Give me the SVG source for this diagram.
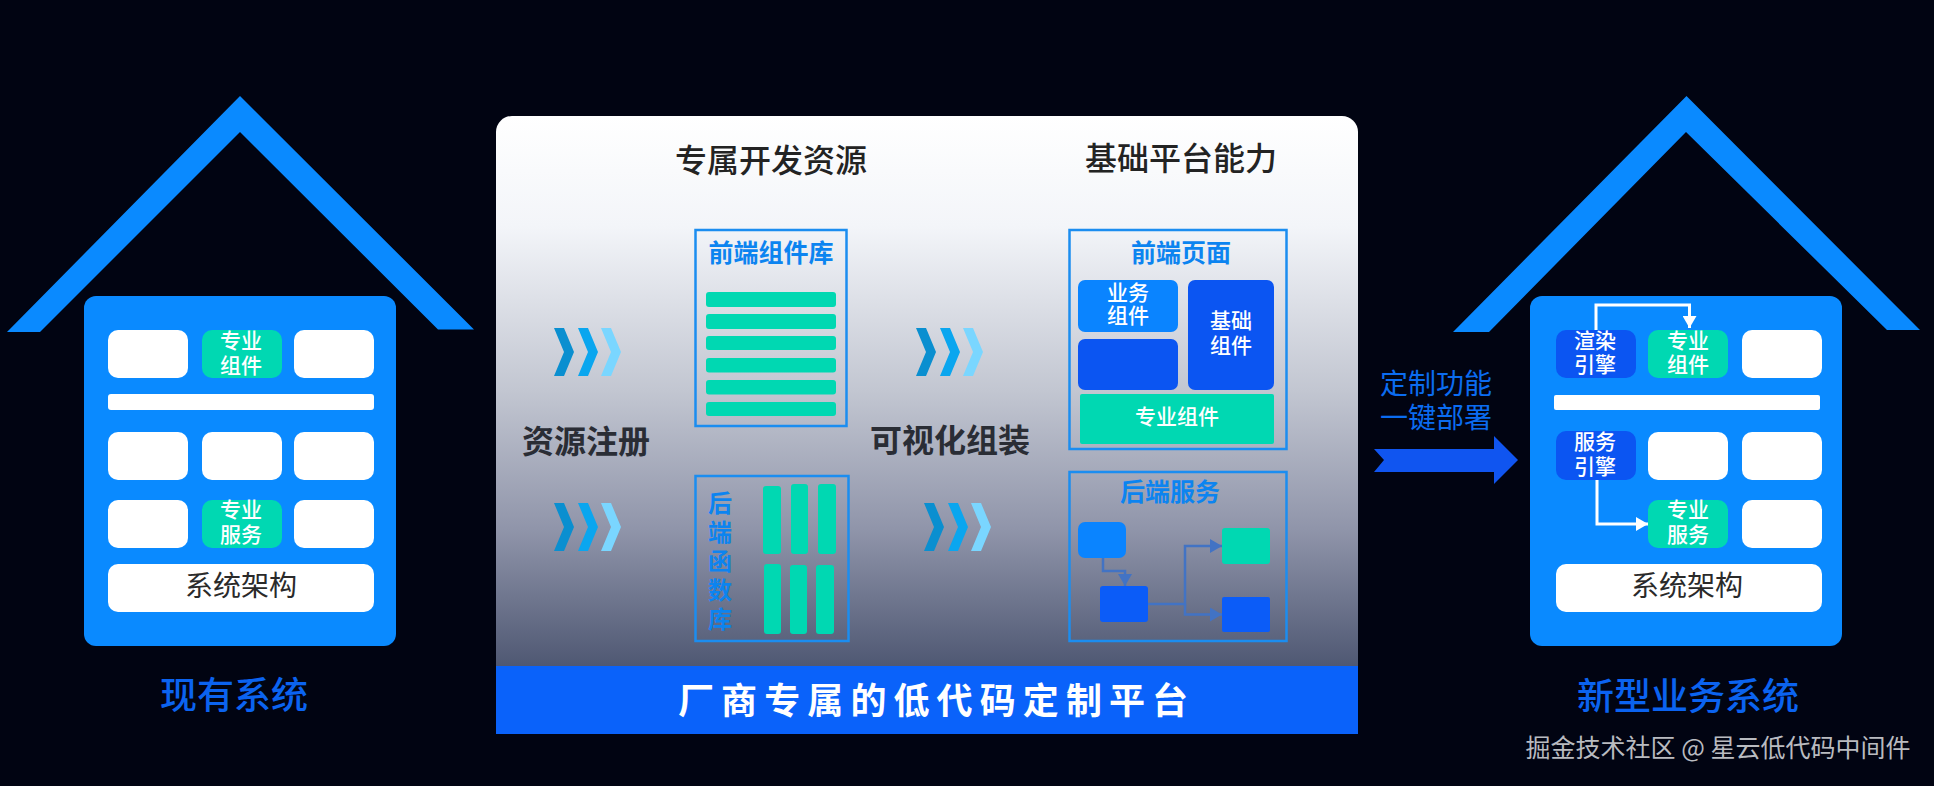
<svg xmlns="http://www.w3.org/2000/svg" xmlns:xlink="http://www.w3.org/1999/xlink" width="1934" height="786" viewBox="0 0 1934 786">
<style>
text{font-family:"Noto Sans CJK SC","Liberation Sans",sans-serif;text-anchor:middle;dominant-baseline:central;transform:translateY(-2px)}
tspan{dominant-baseline:central}
.body{fill:#0a8aff}.w{fill:#fff}.g{fill:#00d8b2}.d{fill:#0b55f2}.m{fill:#0a84ff}
.t21{font-size:21px;fill:#fff;font-weight:500}.arch{font-size:28px;fill:#2a2a2a}
.title{font-size:37px;font-weight:500;fill:#0b63f0}
.head{font-size:32px;fill:#232323;font-weight:500}
.step{font-size:32px;fill:#2a2d35;font-weight:700}
.sub{font-size:25px;font-weight:700;fill:#0c84f0}
.frame{fill:none;stroke:#1b8df0;stroke-width:2.5}
.wline{fill:none;stroke:#fff;stroke-width:3}
.bline{fill:none;stroke:#4273c4;stroke-width:2.5}
</style>
<defs>
<linearGradient id="panel" x1="0" y1="0" x2="0" y2="1">
<stop offset="0" stop-color="#ffffff"/><stop offset="0.2" stop-color="#f3f5f9"/><stop offset="0.5" stop-color="#c2c6d1"/><stop offset="0.75" stop-color="#9095aa"/><stop offset="1" stop-color="#4f5873"/>
</linearGradient>
<polygon id="chev" points="0,0 10,0 20,24 10,48 0,48 10,24"/>
<g id="chevs">
<use xlink:href="#chev" href="#chev" x="0" fill="#0a8fd0"/>
<use xlink:href="#chev" href="#chev" x="24" fill="#0aa6ef"/>
<use xlink:href="#chev" href="#chev" x="47" fill="#7ad6ff"/>
</g>
<marker id="aw" markerUnits="userSpaceOnUse" markerWidth="14" markerHeight="14" refX="12" refY="7" orient="auto"><path d="M0,0L12,7L0,14Z" fill="#fff"/></marker>
<marker id="ab" markerUnits="userSpaceOnUse" markerWidth="13" markerHeight="14" refX="12" refY="7" orient="auto"><path d="M0,0L12,7L0,14Z" fill="#4273c4"/></marker>
</defs>
<rect width="1934" height="786" fill="#010412"/>

<g id="house-current">
<polygon class="body" points="240,96 474,329.5 438,329.5 240,132 40,332 7,332"/>
<rect class="body" x="84" y="296" width="312" height="350" rx="12"/>
<rect class="w" x="108" y="330" width="80" height="48" rx="10"/>
<rect class="g" x="202" y="330" width="80" height="48" rx="10"/>
<rect class="w" x="294" y="330" width="80" height="48" rx="10"/>
<text class="t21"><tspan x="241" y="341">专业</tspan><tspan x="241" y="366">组件</tspan></text>
<rect class="w" x="108" y="394" width="266" height="16" rx="3"/>
<rect class="w" x="108" y="432" width="80" height="48" rx="10"/>
<rect class="w" x="202" y="432" width="80" height="48" rx="10"/>
<rect class="w" x="294" y="432" width="80" height="48" rx="10"/>
<rect class="w" x="108" y="500" width="80" height="48" rx="10"/>
<rect class="g" x="202" y="500" width="80" height="48" rx="10"/>
<rect class="w" x="294" y="500" width="80" height="48" rx="10"/>
<text class="t21"><tspan x="241" y="510">专业</tspan><tspan x="241" y="535">服务</tspan></text>
<rect class="w" x="108" y="564" width="266" height="48" rx="10"/>
<text class="arch" x="241" y="586">系统架构</text>
<text class="title" x="234" y="695">现有系统</text>
</g>

<g id="platform">
<path d="M512,116H1342a16,16 0 0 1 16,16V666H496V132a16,16 0 0 1 16,-16Z" fill="url(#panel)"/>
<rect x="496" y="666" width="862" height="68" fill="#0a62fa"/>
<text x="678" y="698" font-size="36" font-weight="700" fill="#fff" letter-spacing="7.1" style="text-anchor:start;transform:none">厂商专属的低代码定制平台</text>
<text class="head" x="771" y="160">专属开发资源</text>
<text class="head" x="1181" y="158">基础平台能力</text>
<text class="step" x="586" y="441">资源注册</text>
<text class="step" x="950" y="440">可视化组装</text>
</g>

<g id="chevrons">
<use xlink:href="#chevs" href="#chevs" x="554" y="328"/>
<use xlink:href="#chevs" href="#chevs" x="554" y="503"/>
<use xlink:href="#chevs" href="#chevs" x="916" y="328"/>
<use xlink:href="#chevs" href="#chevs" x="924" y="503"/>
</g>

<g id="frontend-lib">
<rect class="frame" x="695.5" y="230" width="151" height="196"/>
<text class="sub" x="771" y="253">前端组件库</text>
<rect class="g" x="706" y="292" width="130" height="15" rx="3"/>
<rect class="g" x="706" y="314" width="130" height="15" rx="3"/>
<rect class="g" x="706" y="336" width="130" height="14" rx="3"/>
<rect class="g" x="706" y="358" width="130" height="14.5" rx="3"/>
<rect class="g" x="706" y="380" width="130" height="14.5" rx="3"/>
<rect class="g" x="706" y="402" width="130" height="14" rx="3"/>
</g>

<g id="backend-lib">
<rect class="frame" x="695.5" y="476" width="153" height="165"/>
<text class="sub" style="font-size:24px"><tspan x="720" y="503">后</tspan><tspan x="720" y="532">端</tspan><tspan x="720" y="561">函</tspan><tspan x="720" y="590">数</tspan><tspan x="720" y="619">库</tspan></text>
<rect class="g" x="763" y="486" width="18" height="68" rx="3"/>
<rect class="g" x="791" y="484" width="17" height="70" rx="3"/>
<rect class="g" x="818" y="484" width="18" height="70" rx="3"/>
<rect class="g" x="764" y="564" width="17" height="70" rx="3"/>
<rect class="g" x="790" y="565" width="17" height="69" rx="3"/>
<rect class="g" x="816" y="565" width="18" height="69" rx="3"/>
</g>

<g id="frontend-page">
<rect class="frame" x="1069.500" y="230" width="217" height="219"/>
<text class="sub" x="1181" y="253">前端页面</text>
<rect class="m" x="1078" y="280" width="100" height="52" rx="7"/>
<text class="t21"><tspan x="1128" y="293">业务</tspan><tspan x="1128" y="316">组件</tspan></text>
<rect class="d" x="1078" y="339" width="100" height="51" rx="7"/>
<rect class="d" x="1188" y="280" width="86" height="110" rx="7"/>
<text class="t21"><tspan x="1231" y="321">基础</tspan><tspan x="1231" y="346">组件</tspan></text>
<rect class="g" x="1080" y="394" width="194" height="50" rx="2"/>
<text class="t21" x="1177" y="417">专业组件</text>
</g>

<g id="backend-service">
<rect class="frame" x="1069.500" y="472" width="217" height="169"/>
<text class="sub" x="1170" y="492">后端服务</text>
<rect class="m" x="1078" y="522" width="48" height="36" rx="7"/>
<rect x="1100" y="586" width="48" height="36" rx="3" fill="#0b5cf8"/>
<rect class="g" x="1222" y="528" width="48" height="36" rx="3"/>
<rect x="1222" y="597" width="48" height="35" rx="2" fill="#0b5cf8"/>
</g>

<g id="house-new">
<polygon class="body" points="1686.500,96 1920,330 1887,330 1686,132 1489,332 1453,332"/>
<rect class="body" x="1530" y="296" width="312" height="350" rx="12"/>
<rect class="d" x="1556" y="330" width="80" height="48" rx="10"/>
<text class="t21"><tspan x="1595" y="341">渲染</tspan><tspan x="1595" y="365">引擎</tspan></text>
<rect class="g" x="1648" y="330" width="80" height="48" rx="10"/>
<text class="t21"><tspan x="1688" y="341">专业</tspan><tspan x="1688" y="365">组件</tspan></text>
<rect class="w" x="1742" y="330" width="80" height="48" rx="10"/>
<rect class="w" x="1554" y="395" width="266" height="15" rx="2"/>
<rect class="d" x="1556" y="431" width="80" height="49" rx="10"/>
<text class="t21"><tspan x="1595" y="442">服务</tspan><tspan x="1595" y="467">引擎</tspan></text>
<rect class="w" x="1648" y="432" width="80" height="48" rx="10"/>
<rect class="w" x="1742" y="432" width="80" height="48" rx="10"/>
<rect class="g" x="1648" y="500" width="80" height="48" rx="10"/>
<text class="t21"><tspan x="1688" y="510">专业</tspan><tspan x="1688" y="535">服务</tspan></text>
<rect class="w" x="1742" y="500" width="80" height="48" rx="10"/>
<rect class="w" x="1556" y="564" width="266" height="48" rx="10"/>
<text class="arch" x="1687" y="586">系统架构</text>
<text class="title" x="1688" y="696">新型业务系统</text>
</g>

<g id="deploy">
<text font-size="28" fill="#0b6cf0"><tspan x="1436" y="384">定制功能</tspan><tspan x="1436" y="418">一键部署</tspan></text>
</g>

<g id="connectors">
<polygon points="1374,449 1494,449 1494,436 1518,460 1494,484 1494,472 1374,472 1384,460" fill="#1055f0"/>
<path class="wline" d="M1596,330V305H1689.500V328" marker-end="url(#aw)"/>
<path class="wline" d="M1597,480V524H1648" marker-end="url(#aw)"/>
<path class="bline" d="M1103,558V571H1125V586" marker-end="url(#ab)"/>
<path class="bline" d="M1148,604H1185V546H1222" marker-end="url(#ab)"/>
<path class="bline" d="M1185,604V614.500H1222" marker-end="url(#ab)"/>
</g>

<text id="watermark" x="1718" y="748" font-size="25" fill="#b9bbc0">掘金技术社区 @ 星云低代码中间件</text>
</svg>
